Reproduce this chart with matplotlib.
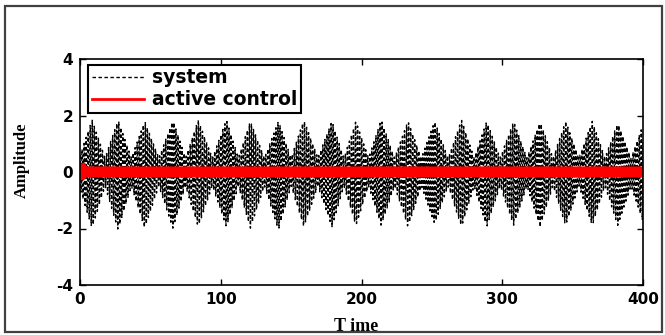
import numpy as np
import matplotlib.pyplot as plt
from matplotlib.lines import Line2D
from matplotlib.patches import Rectangle

plt.rcParams['axes.unicode_minus'] = False

# values
burst_times = [8.6, 27, 46, 66, 84, 104, 121, 141, 159, 179, 196,
               214, 233, 252, 271, 289, 308, 327, 345, 364, 382, 401]
burst_top = [1.85, 1.85, 1.8, 1.85, 1.85, 1.85, 1.8, 1.8, 1.85, 1.8, 1.8,
             1.85, 1.8, 1.8, 1.85, 1.8, 1.8, 1.8, 1.8, 1.8, 1.75, 1.8]
burst_bottom = [-2.0, -2.05, -2.0, -2.0, -1.95, -1.95, -2.0, -2.05, -1.95, -1.95, -1.9,
                -1.9, -1.95, -1.85, -1.95, -1.95, -1.9, -1.95, -1.9, -1.9, -1.9, -1.9]
trough_amp = 0.5
carrier_period = 1.45

control_t = [0, 1, 2, 3, 400]
control_v = [0.3, -0.1, 0.05, 0.0, 0.0]

xticks = [0, 100, 200, 300, 400]
yticks = [-4, -2, 0, 2, 4]

# build envelope from burst peaks and the troughs between them
bt = np.array(burst_times)
mids = (bt[:-1] + bt[1:]) / 2
knot_t = np.concatenate([[bt[0] - (bt[1] - bt[0]) / 2], mids, bt])
up_v = np.concatenate([[trough_amp], np.full(len(mids), trough_amp), burst_top])
lo_v = np.concatenate([[-trough_amp], np.full(len(mids), -trough_amp), burst_bottom])
order = np.argsort(knot_t)
knot_t, up_v, lo_v = knot_t[order], up_v[order], lo_v[order]

t = np.arange(0, 400.001, 0.04)
upper = np.interp(t, knot_t, up_v)
lower = np.interp(t, knot_t, lo_v)
system = (upper + lower) / 2 + (upper - lower) / 2 * np.cos(2 * np.pi * t / carrier_period)

fig = plt.figure(figsize=(6.65, 3.35), dpi=100)
ax = fig.add_axes([80/665, 50/335, 563/665, 226/335])

ax.plot(t, system, color='k', lw=1.0, dashes=(2.5, 1.6))
ax.plot(control_t, control_v, color='red', lw=8, solid_capstyle='butt')

ax.set_xlim(0, 400)
ax.set_ylim(-4, 4)
ax.set_xticks(xticks)
ax.set_yticks(yticks)
ax.tick_params(direction='in', top=True, right=True, length=4, width=1, pad=5)
for lab in ax.get_xticklabels() + ax.get_yticklabels():
    lab.set_fontweight('bold')
    lab.set_fontsize(11)
for s in ax.spines.values():
    s.set_linewidth(1.2)

ax.set_xlabel('T ime', family='Liberation Serif', fontweight='bold', fontsize=13)
ax.xaxis.set_label_coords(0.49, -0.145)
ax.set_ylabel('Amplitude', family='Liberation Serif', fontweight='bold', fontsize=12)
ax.yaxis.set_label_coords(-0.089, 0.55)

handles = [Line2D([], [], color='k', lw=1, dashes=(2.5, 1.8)),
           Line2D([], [], color='red', lw=2)]
leg = ax.legend(handles, ['system', 'active control'], loc='upper left',
                bbox_to_anchor=(0.014, 0.975), borderaxespad=0, fancybox=False,
                edgecolor='k', framealpha=1, handlelength=2.8, handletextpad=0.4,
                labelspacing=0.15, borderpad=0.2,
                prop={'weight': 'bold', 'size': 13.5})
leg.get_frame().set_linewidth(1.5)

fig.patches.append(Rectangle((5/665, 3/335), 657/665, 326/335, transform=fig.transFigure,
                             fill=False, edgecolor='#404040', lw=1.6))

fig.savefig('out.png', dpi=100)
